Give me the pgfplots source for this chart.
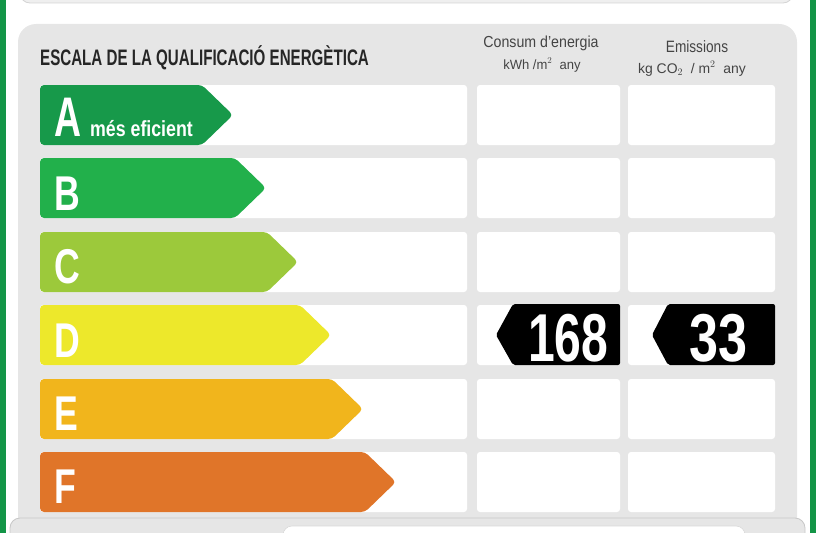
\documentclass[border=0pt]{standalone}
\usepackage{fontspec}
\setmainfont{Liberation Sans}
\usepackage{graphicx}
\usepackage{pgfplots}
\pgfplotsset{compat=1.18}
\definecolor{brd}{HTML}{139547}
\definecolor{panel}{HTML}{E6E6E6}
\definecolor{topbox}{HTML}{EFEFEF}
\definecolor{topline}{HTML}{D4D4D4}
\definecolor{cA}{HTML}{17994A}
\definecolor{cB}{HTML}{22B04B}
\definecolor{cC}{HTML}{9CC93B}
\definecolor{cD}{HTML}{EDE82B}
\definecolor{cE}{HTML}{F1B51C}
\definecolor{cF}{HTML}{E07529}
\definecolor{ttl}{HTML}{262626}
\definecolor{hdr}{HTML}{444444}
\newcommand{\cnd}[3]{{\fontsize{#1}{#1}\selectfont\scalebox{#2}[1]{#3}}}
\begin{document}
\begin{tikzpicture}
\begin{axis}[hide axis, scale only axis, width=816bp, height=533bp,
  xmin=0, xmax=816, ymin=0, ymax=533, y dir=reverse, no markers, clip=true]
% outer green borders
\addplot[fill=brd, draw=none] coordinates {(0,-5) (6,-5) (6,540) (0,540)} -- cycle;
\addplot[fill=brd, draw=none] coordinates {(810,-5) (816,-5) (816,540) (810,540)} -- cycle;
% top box
\addplot[fill=topbox, draw=topline, line width=0.8bp, rounded corners=10bp] coordinates {(20,-40) (793,-40) (793,3) (20,3)} -- cycle;
% main panel
\addplot[fill=panel, draw=none, rounded corners=18bp] coordinates {(18,24) (797,24) (797,540) (18,540)} -- cycle;
% white cells (rows: top, bottom)
\foreach \yt/\yb in {85/145,158/218,232/292,305/365,379/439,452/512}{
  \addplot[fill=white, draw=none, rounded corners=3bp] coordinates {(40,\yt) (467,\yt) (467,\yb) (40,\yb)} -- cycle;
  \addplot[fill=white, draw=none, rounded corners=3bp] coordinates {(477,\yt) (620,\yt) (620,\yb) (477,\yb)} -- cycle;
  \addplot[fill=white, draw=none, rounded corners=3bp] coordinates {(628,\yt) (775,\yt) (775,\yb) (628,\yb)} -- cycle;
}
% rating arrows
\addplot[fill=cA, draw=none, rounded corners=4bp] coordinates {(40,85) (202,85) (233,115) (202,145) (40,145)} -- cycle;
\addplot[fill=cB, draw=none, rounded corners=4bp] coordinates {(40,158) (235,158) (266,188) (235,218) (40,218)} -- cycle;
\addplot[fill=cC, draw=none, rounded corners=4bp] coordinates {(40,232) (267,232) (298,262) (267,292) (40,292)} -- cycle;
\addplot[fill=cD, draw=none, rounded corners=4bp] coordinates {(40,305) (300,305) (331,335) (300,365) (40,365)} -- cycle;
\addplot[fill=cE, draw=none, rounded corners=4bp] coordinates {(40,379) (332,379) (363,409) (332,439) (40,439)} -- cycle;
\addplot[fill=cF, draw=none, rounded corners=4bp] coordinates {(40,452) (365,452) (396,482) (365,512) (40,512)} -- cycle;
% value markers (row D)
\addplot[fill=black, draw=none, rounded corners=2bp] coordinates {(496,335) (513,304) (620,304) (620,365) (513,365)} -- cycle;
\addplot[fill=black, draw=none, rounded corners=2bp] coordinates {(652,335) (668,304) (775,304) (775,365) (668,365)} -- cycle;
% bottom box
\addplot[fill=panel, draw=black!22, line width=0.8bp, rounded corners=10bp] coordinates {(10,518) (805,518) (805,560) (10,560)} -- cycle;
\addplot[fill=white, draw=black!15, line width=0.6bp, rounded corners=9bp] coordinates {(283,526) (745,526) (745,560) (283,560)} -- cycle;
% texts
\node[anchor=base west, inner sep=0pt, text=ttl] at (axis cs:40,65) {\cnd{22.5}{0.675}{\bfseries ESCALA DE LA QUALIFICACIÓ ENERGÈTICA}};
\node[anchor=base, inner sep=0pt, text=hdr] at (axis cs:541,48) {\cnd{16}{0.89}{Consum d'energia}};
\node[anchor=base, inner sep=0pt, text=hdr] at (axis cs:542,69) {\cnd{13.5}{0.97}{kWh /m$^{2}$\ \ any}};
\node[anchor=base, inner sep=0pt, text=hdr] at (axis cs:697,52) {\cnd{16.5}{0.83}{Emissions}};
\node[anchor=base, inner sep=0pt, text=hdr] at (axis cs:692,73) {\cnd{14}{1.0}{kg CO$_{2}$\ \ / m$^{2}$\ \ any}};
% letters
\node[anchor=base west, inner sep=0pt, text=white] at (axis cs:54,136) {\cnd{56}{0.67}{\bfseries A}};
\node[anchor=base west, inner sep=0pt, text=white] at (axis cs:90,136) {\cnd{22}{0.81}{\bfseries més eficient}};
\node[anchor=base west, inner sep=0pt, text=white] at (axis cs:54,210) {\cnd{49}{0.73}{\bfseries B}};
\node[anchor=base west, inner sep=0pt, text=white] at (axis cs:54,283) {\cnd{49}{0.73}{\bfseries C}};
\node[anchor=base west, inner sep=0pt, text=white] at (axis cs:54,357) {\cnd{49}{0.73}{\bfseries D}};
\node[anchor=base west, inner sep=0pt, text=white] at (axis cs:54,430) {\cnd{49}{0.73}{\bfseries E}};
\node[anchor=base west, inner sep=0pt, text=white] at (axis cs:54,503) {\cnd{49}{0.73}{\bfseries F}};
% values
\node[anchor=base west, inner sep=0pt, text=white] at (axis cs:528,361) {\cnd{68}{0.71}{\bfseries 168}};
\node[anchor=base west, inner sep=0pt, text=white] at (axis cs:689,361) {\cnd{68}{0.77}{\bfseries 33}};
\end{axis}
\end{tikzpicture}
\end{document}
